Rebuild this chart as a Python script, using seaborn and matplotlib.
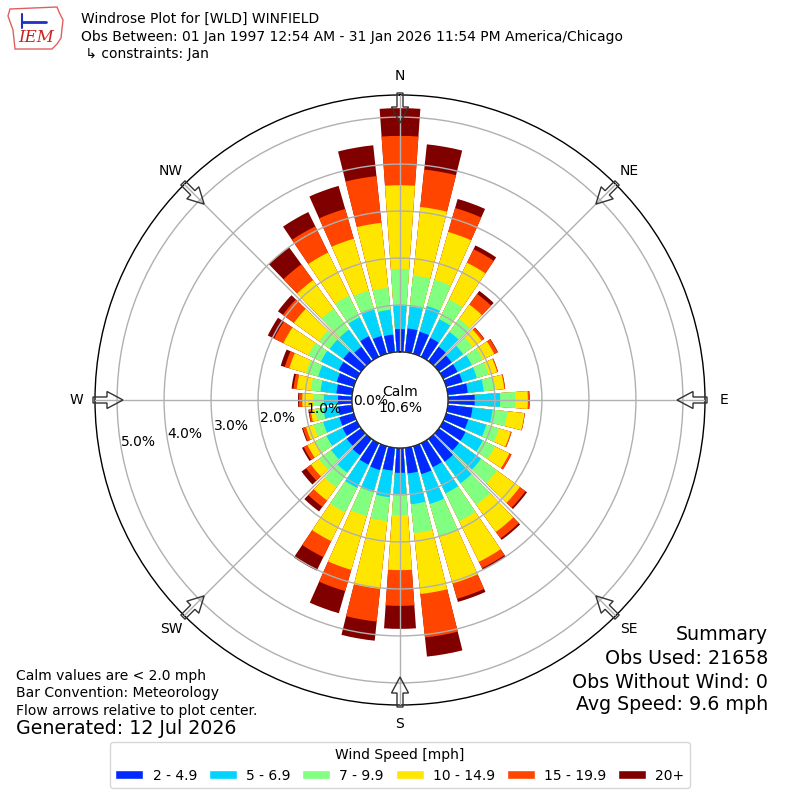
"""
Windrose of January winds at [WLD] Winfield, stacked by wind speed bin.
"""
import numpy as np
import pandas as pd
import seaborn as sns
import matplotlib.pyplot as plt
from matplotlib.patches import Patch, FancyArrow, Polygon

# Direction bins (degrees, where the wind blows from)
directions = np.arange(0, 360, 10)

speed_labels = ['2 - 4.9', '5 - 6.9', '7 - 9.9', '10 - 14.9', '15 - 19.9', '20+']
speed_colors = ['#0028ff', '#00d4ff', '#80ff80', '#ffe600', '#ff4500', '#800000']

# Percent of observations per direction, one list per speed bin
freq_2_5 = [0.49, 0.51, 0.49, 0.45, 0.38, 0.34, 0.34, 0.36, 0.43, 0.57, 0.53, 0.49,
            0.53, 0.53, 0.60, 0.57, 0.62, 0.55, 0.53, 0.49, 0.53, 0.51, 0.43, 0.38,
            0.34, 0.32, 0.30, 0.30, 0.34, 0.38, 0.43, 0.47, 0.38, 0.49, 0.40, 0.38]
freq_5_7 = [0.51, 0.47, 0.57, 0.44, 0.39, 0.30, 0.34, 0.32, 0.34, 0.54, 0.43, 0.40,
            0.41, 0.58, 0.57, 0.62, 0.66, 0.66, 0.45, 0.57, 0.49, 0.55, 0.46, 0.41,
            0.38, 0.36, 0.32, 0.30, 0.34, 0.41, 0.42, 0.36, 0.45, 0.45, 0.58, 0.53]
freq_7_10 = [0.77, 0.66, 0.58, 0.47, 0.34, 0.25, 0.26, 0.26, 0.25, 0.32, 0.32, 0.28,
             0.29, 0.42, 0.57, 0.66, 0.72, 0.62, 0.45, 0.51, 0.53, 0.58, 0.39, 0.32,
             0.26, 0.21, 0.17, 0.23, 0.21, 0.27, 0.30, 0.28, 0.55, 0.51, 0.42, 0.47]
freq_10_15 = [1.78, 1.47, 1.06, 0.87, 0.38, 0.24, 0.27, 0.19, 0.19, 0.27, 0.36, 0.26,
              0.34, 0.60, 0.71, 0.96, 1.04, 1.30, 1.17, 1.45, 1.19, 0.68, 0.34, 0.21,
              0.19, 0.17, 0.10, 0.23, 0.30, 0.37, 0.59, 0.66, 0.75, 1.02, 1.15, 1.39]
freq_15_20 = [1.05, 0.80, 0.53, 0.32, 0.28, 0.06, 0.08, 0.02, 0.02, 0.03, 0.01, 0.02,
              0.05, 0.15, 0.17, 0.15, 0.34, 0.93, 0.76, 0.70, 0.47, 0.38, 0.17, 0.13,
              0.09, 0.07, 0.04, 0.07, 0.07, 0.10, 0.22, 0.29, 0.42, 0.62, 0.66, 1.00]
freq_20p = [0.59, 0.54, 0.20, 0.09, 0.08, 0.01, 0.01, 0.00, 0.00, 0.01, 0.00, 0.00,
            0.00, 0.04, 0.04, 0.04, 0.07, 0.41, 0.49, 0.41, 0.49, 0.32, 0.12, 0.12,
            0.04, 0.02, 0.01, 0.02, 0.04, 0.09, 0.15, 0.13, 0.45, 0.34, 0.51, 0.66]

calm_pct = 10.6
radial_ticks = [0, 1, 2, 3, 4, 5]
compass_labels = ['N', 'NE', 'E', 'SE', 'S', 'SW', 'W', 'NW']

RMAX = 5.47
RORIGIN = -1.02


def build_frame():
    """Long-form table of cumulative percent per direction and speed bin."""
    bins = np.array([freq_2_5, freq_5_7, freq_7_10, freq_10_15, freq_15_20, freq_20p])
    cum = np.cumsum(bins, axis=0)
    rows = []
    for label, values in zip(speed_labels, cum):
        for d, v in zip(directions, values):
            rows.append({'theta': np.radians(d), 'speed': label, 'pct': v})
    return pd.DataFrame(rows)


sns.set_style('white')
plt.rcParams['font.family'] = ['DejaVu Sans']
plt.rcParams['text.color'] = 'black'
plt.rcParams['xtick.color'] = 'black'
plt.rcParams['legend.labelcolor'] = 'black'

fig = plt.figure(figsize=(8, 8), dpi=100)
ax = fig.add_axes([0.11875, 0.11875, 0.7625, 0.7625], projection='polar')
ax.set_theta_zero_location('N')
ax.set_theta_direction(-1)

# Overlapping cumulative bars, outermost bin first so inner bins sit on top
df = build_frame()
sns.barplot(data=df, x='theta', y='pct', hue='speed',
            hue_order=speed_labels[::-1],
            palette=dict(zip(speed_labels, speed_colors)), saturation=1,
            native_scale=True, dodge=False, errorbar=None, width=0.8,
            linewidth=0, legend=False, ax=ax)
ax.set_xlabel('')
ax.set_ylabel('')

ax.set_ylim(0, RMAX)
ax.set_rorigin(RORIGIN)
ax.set_axisbelow(False)
ax.set_xticks(np.radians(np.arange(0, 360, 45)))
ax.set_xticklabels(compass_labels)
ax.tick_params(axis='x', pad=3, labelsize=10, labelcolor='black')
ax.set_yticks(radial_ticks)
ax.set_yticklabels([])
ax.grid(True, color='#b0b0b0', lw=1)
ax.spines['polar'].set_color('black')
ax.spines['polar'].set_linewidth(1)

# calm circle edge
circ = np.linspace(0, 2 * np.pi, 361)
ax.plot(circ, np.zeros_like(circ), color='black', lw=1, zorder=3)
ax.text(0.5, 0.5, 'Calm\n{:.1f}%'.format(calm_pct), transform=ax.transAxes,
        ha='center', va='center', fontsize=10, zorder=4)

for t in radial_ticks:
    ax.text(np.radians(260), t, '{:.1f}%'.format(t), ha='left', va='bottom',
            fontsize=10, zorder=4)

# Overlay in pixel coordinates for arrows and logo
ov = fig.add_axes([0, 0, 1, 1], facecolor='none')
ov.set_xlim(0, 800)
ov.set_ylim(800, 0)
ov.axis('off')
for ang in np.arange(0, 360, 45):
    u = np.array([np.sin(np.radians(ang)), -np.cos(np.radians(ang))])
    tail = np.array([400, 400]) + 307 * u
    ov.add_patch(FancyArrow(tail[0], tail[1], -30 * u[0], -30 * u[1], width=6,
                            head_width=17, head_length=16,
                            length_includes_head=True, fc='none',
                            ec='#333333', lw=1))

ov.add_patch(Polygon([(10, 9), (57, 7), (59, 12), (63, 20), (61, 38), (57, 44),
                      (52, 49), (15, 49), (13, 30), (8, 16)],
                     closed=True, fill=False, ec='#e06060', lw=1))
ov.plot([22, 46], [22, 22], color='#2030c0', lw=2)
ov.plot([22, 22], [14, 28], color='#2030c0', lw=1.5)
ov.text(36, 38, 'IEM', color='#cc2020', fontsize=12, fontstyle='italic',
        family='DejaVu Serif', ha='center', va='center')


def ptext(x, y, s, **kw):
    fig.text(x / 800, 1 - y / 800, s, va='center', **kw)


ptext(81, 19, 'Windrose Plot for [WLD] WINFIELD', fontsize=10)
ptext(81, 37, 'Obs Between: 01 Jan 1997 12:54 AM - 31 Jan 2026 11:54 PM America/Chicago',
      fontsize=10)
ptext(81, 54, ' \u21b3 constraints: Jan', fontsize=10)

ptext(16, 676, 'Calm values are < 2.0 mph', fontsize=10)
ptext(16, 693, 'Bar Convention: Meteorology', fontsize=10)
ptext(16, 711, 'Flow arrows relative to plot center.', fontsize=10)
ptext(16, 729, 'Generated: 12 Jul 2026', fontsize=13.7)

ptext(768, 635, 'Summary', fontsize=13.7, ha='right')
ptext(768, 659, 'Obs Used: 21658', fontsize=13.7, ha='right')
ptext(768, 682, 'Obs Without Wind: 0', fontsize=13.7, ha='right')
ptext(768, 705, 'Avg Speed: 9.6 mph', fontsize=13.7, ha='right')

handles = [Patch(facecolor=c) for c in speed_colors]
fig.legend(handles, speed_labels, loc='upper center',
           bbox_to_anchor=(0.5, 1 - 742 / 800), borderaxespad=0, ncol=6,
           title='Wind Speed [mph]', fontsize=10, title_fontsize=10,
           handlelength=2.0, handleheight=0.58, handletextpad=0.67,
           columnspacing=0.86, frameon=True, edgecolor='#cccccc',
           fancybox=True)

fig.savefig('out.png', dpi=100)
